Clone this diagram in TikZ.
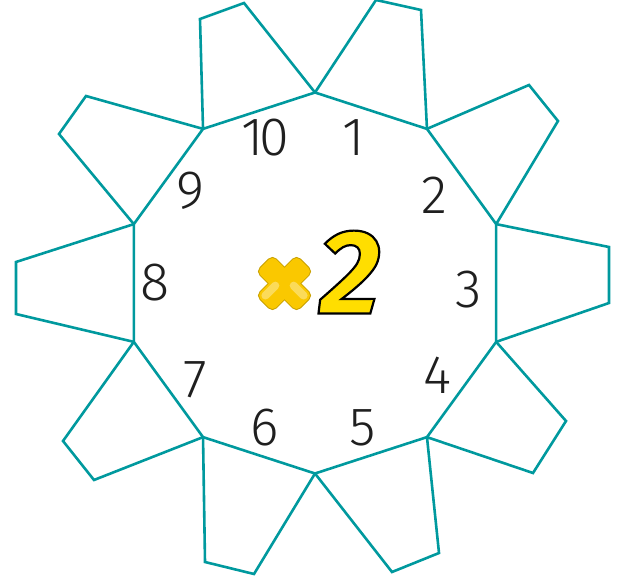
\documentclass[tikz,border=0pt]{standalone}
\usepackage{fontspec}
\setmainfont{Fira Sans Light}
\newfontfamily\twofont{Fira Sans}
\definecolor{tealline}{RGB}{0,153,158}
\definecolor{crossgold}{RGB}{250,200,0}
\definecolor{crossdark}{RGB}{200,160,0}
\definecolor{twoyellow}{RGB}{255,222,0}
\begin{document}
\begin{tikzpicture}[x=1pt,y=-1pt,
  edge/.style={draw=tealline, line width=2.6pt, line join=miter},
  num/.style={font=\fontsize{54}{54}\selectfont, text=black!88, inner sep=0pt}]
\useasboundingbox (0,0) rectangle (621,580);
% regular decagon, centre (315,283), radius 190.5
\foreach \k in {1,...,10}{
  \coordinate (V\k) at ({315+190.5*cos(90-36*(\k-1))},{283-190.5*sin(90-36*(\k-1))});
}
% outer points of the flaps
\coordinate (A1) at (200,19);  \coordinate (A2) at (244,3);
\coordinate (B1) at (376,0);   \coordinate (B2) at (421,10);
\coordinate (C1) at (529,85);  \coordinate (C2) at (558,121);
\coordinate (D1) at (609,247); \coordinate (D2) at (609,303);
\coordinate (E1) at (566,421); \coordinate (E2) at (533,473);
\coordinate (F1) at (439,553); \coordinate (F2) at (392,572);
\coordinate (G1) at (254,574); \coordinate (G2) at (205,562);
\coordinate (H1) at (94,480);  \coordinate (H2) at (63,441);
\coordinate (I1) at (16,314);  \coordinate (I2) at (16,262);
\coordinate (J1) at (59,134);  \coordinate (J2) at (86,96);
% decagon
\draw[edge] (V1)--(V2)--(V3)--(V4)--(V5)--(V6)--(V7)--(V8)--(V9)--(V10)--cycle;
% flaps
\draw[edge] (V10)--(A1)--(A2)--(V1);
\draw[edge] (V1)--(B1)--(B2)--(V2);
\draw[edge] (V2)--(C1)--(C2)--(V3);
\draw[edge] (V3)--(D1)--(D2)--(V4);
\draw[edge] (V4)--(E1)--(E2)--(V5);
\draw[edge] (V5)--(F1)--(F2)--(V6);
\draw[edge] (V6)--(G1)--(G2)--(V7);
\draw[edge] (V7)--(H1)--(H2)--(V8);
\draw[edge] (V8)--(I1)--(I2)--(V9);
\draw[edge] (V9)--(J1)--(J2)--(V10);
% numbers
\node[num] (n1) at (354,138) {1};
\node[num] (n2) at (434,195) {2};
\node[num] (n3) at (469,290) {3};
\node[num] (n4) at (437,375) {4};
\node[num] (n5) at (363,428) {5};
\node[num] (n6) at (265,428) {6};
\node[num] (n7) at (195,380) {7};
\node[num] (n8) at (155,283) {8};
\node[num] (n9) at (190,191) {9};
\node[num] (n10) at (265,138) {1\kern-4pt0};
% times sign
\begin{scope}[shift={(284.5,283.5)}]
  \foreach \a in {45,-45}
    \draw[rotate=\a, draw=crossdark, line width=2pt, rounded corners=5pt] (-28,-11) rectangle (28,11);
  \foreach \a in {45,-45}
    \fill[rotate=\a, crossgold, rounded corners=5pt] (-28,-11) rectangle (28,11);
  \fill[rotate=-45, white, opacity=0.35, rounded corners=4pt] (4,-9) rectangle (26,-1);
  \fill[rotate=45, white, opacity=0.35, rounded corners=4pt] (-26,-9) rectangle (-4,-1);
\end{scope}
% big 2
\node[inner sep=0pt] (two) at (350,272) {\twofont\bfseries\itshape\fontsize{120}{120}\selectfont\color{twoyellow}\special{pdf:literal direct 0 0 0 RG 2 Tr 2.2 w}2\special{pdf:literal direct 0 Tr}};
\end{tikzpicture}
\end{document}
